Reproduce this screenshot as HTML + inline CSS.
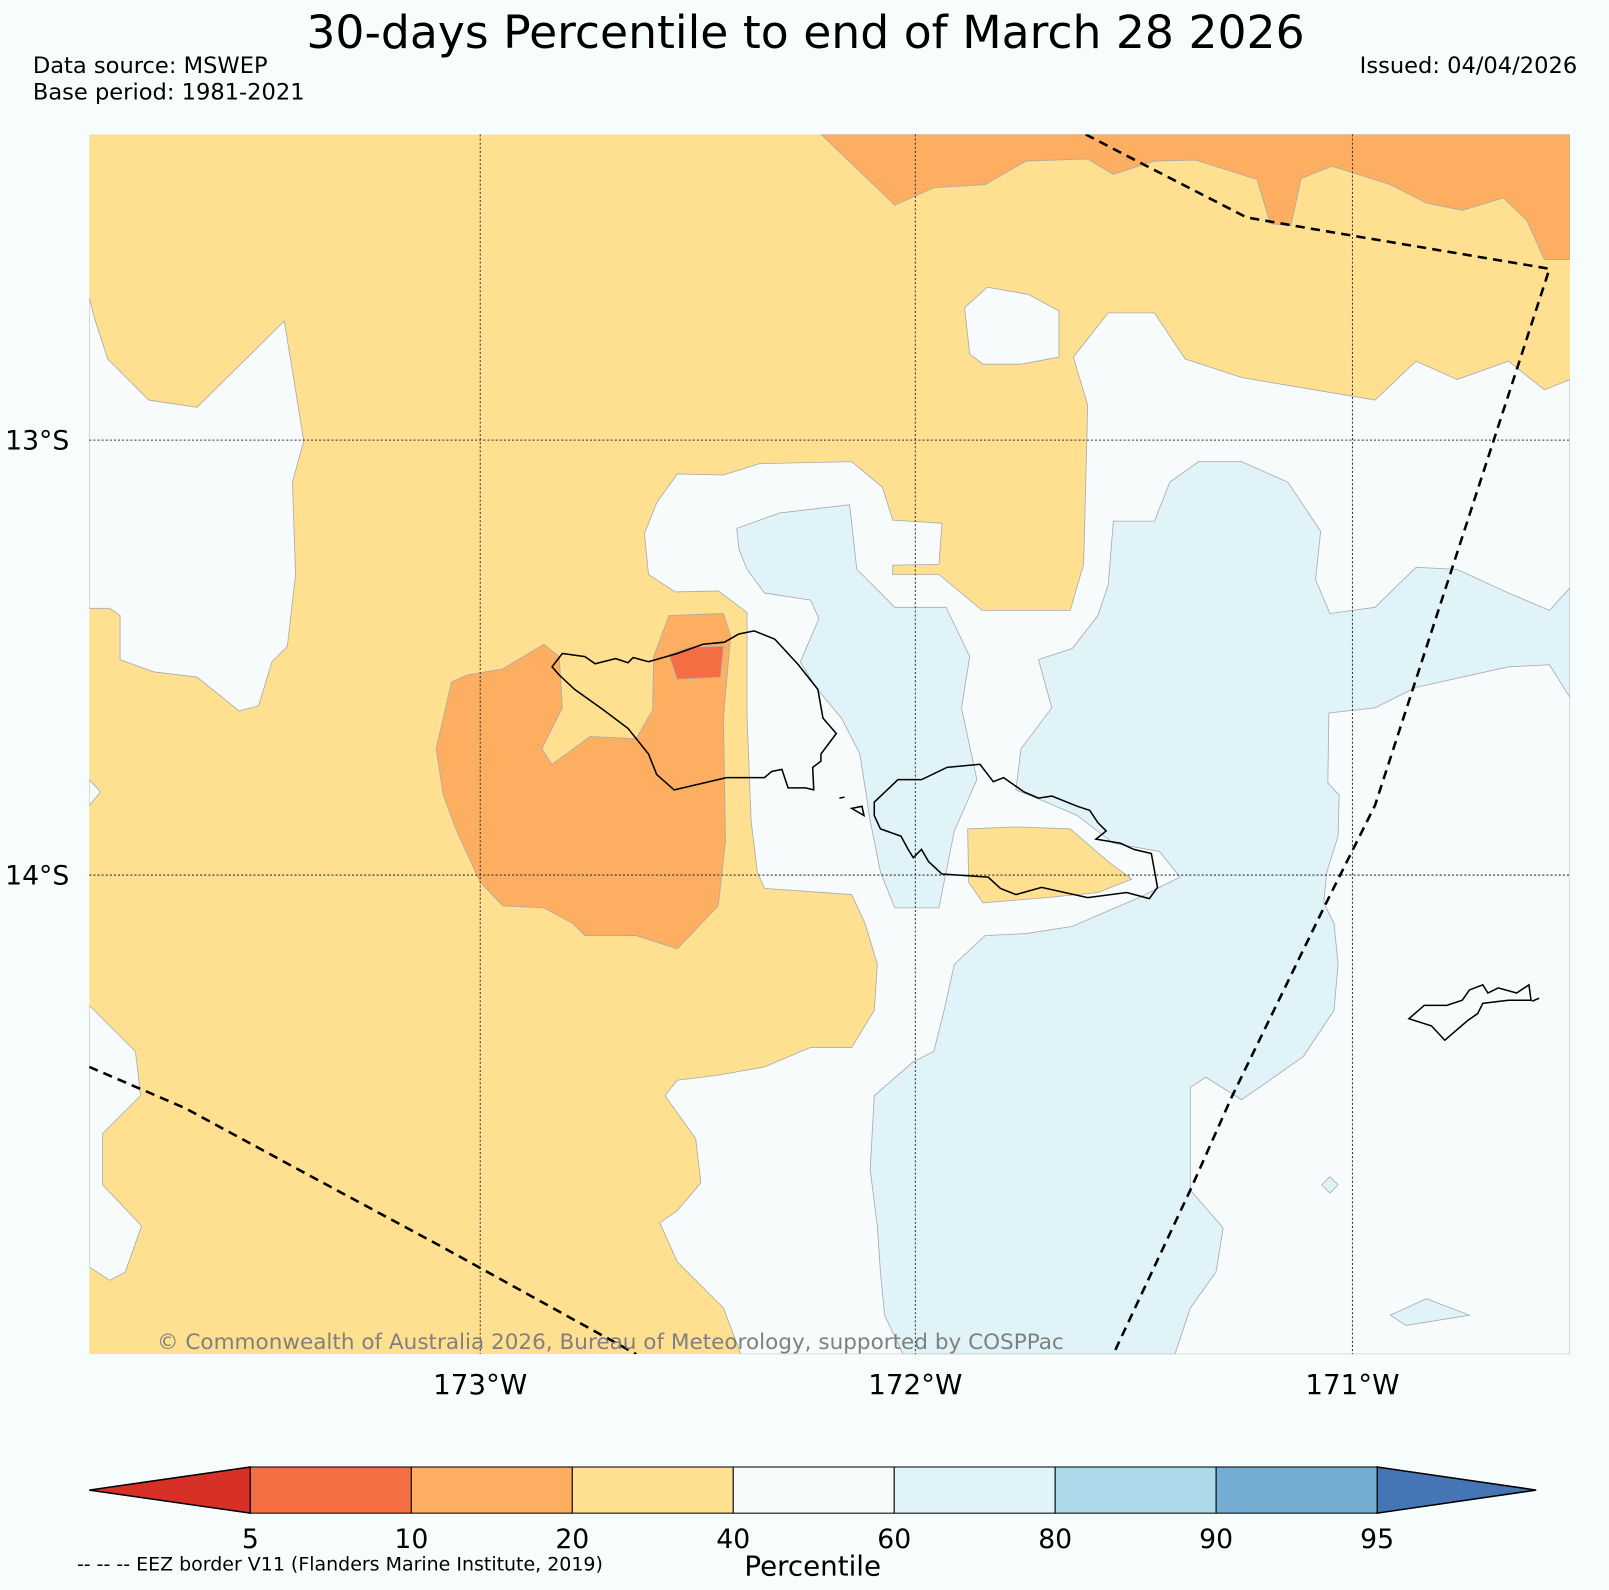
<!DOCTYPE html>
<html><head><meta charset="utf-8"><style>
html,body{margin:0;padding:0;background:#f7fcfd;}
body{width:1609px;height:1586px;overflow:hidden;font-family:"DejaVu Sans","Liberation Sans",sans-serif;}
</style></head><body>
<svg id="fig" width="1609" height="1586" viewBox="0 0 1568 1546" preserveAspectRatio="none" xmlns="http://www.w3.org/2000/svg" font-family="DejaVu Sans, Liberation Sans, sans-serif">
<rect width="1568" height="1546" fill="#f7fcfd"/>
<text x="785" y="47" font-size="44.5" text-anchor="middle">30-days Percentile to end of March 28 2026</text>
<text x="32" y="71" font-size="22">Data source: MSWEP</text>
<text x="32" y="97" font-size="22">Base period: 1981-2021</text>
<text x="1537" y="71" font-size="22" text-anchor="end">Issued: 04/04/2026</text>
<g>
<clipPath id="mc"><rect x="87" y="131" width="1443" height="1189"/></clipPath>
<g clip-path="url(#mc)" stroke="#aaa" stroke-width="0.8">
<rect x="87" y="131" width="1443" height="1189" fill="#fee090" stroke="none"/>
<g fill="#f7fbfc">
<polygon points="87,290 92,310 105,350 145,390 192,397 277,313 288,380 296,430 285,470 288,560 280,630 265,645 252,688 233,693 192,660 150,655 117,643 117,600 107,593 87,593"/>
<polygon points="87,760 98,772 87,785"/>
<polygon points="87,980 132,1025 137,1068 100,1105 100,1155 138,1195 122,1240 107,1248 87,1235"/>
<polygon points="940,300 962,280 1002,287 1032,303 1032,348 995,355 958,355 945,345"/>
<polygon points="1530,370 1505,380 1470,352 1420,370 1380,352 1340,390 1210,368 1155,350 1125,305 1080,305 1046,348 1060,395 1056,550 1043,595 957,595 915,560 870,560 870,551 915,550 918,510 870,507 860,475 830,450 740,452 705,463 660,462 640,490 628,520 632,560 658,577 700,576 728,597 728,700 732,800 738,850 745,866 830,872 843,900 855,940 852,985 830,1021 790,1021 745,1040 700,1048 660,1053 648,1068 678,1110 683,1153 660,1180 643,1192 660,1230 705,1275 722,1320 1530,1320"/>
</g>
<g fill="#e0f3f8">
<polygon points="718,515 760,500 828,492 835,555 872,592 922,592 945,640 937,690 952,760 930,810 915,885 872,885 858,850 848,800 838,735 820,700 795,670 780,645 798,603 790,585 745,578 728,555 720,535"/>
<polygon points="1085,508 1125,508 1140,470 1168,450 1210,450 1255,470 1287,518 1282,565 1296,598 1340,592 1380,553 1420,555 1470,578 1510,595 1530,573 1530,680 1510,648 1470,650 1380,670 1340,690 1295,695 1294,763 1305,775 1304,815 1293,850 1290,880 1300,900 1304,940 1300,985 1270,1030 1210,1072 1175,1050 1160,1060 1160,1160 1192,1197 1185,1240 1160,1275 1145,1320 880,1320 862,1282 858,1240 855,1195 848,1140 852,1068 890,1035 910,1025 920,985 930,940 960,912 1000,910 1045,903 1075,890 1110,875 1150,855 1130,830 1085,822 1050,795 1020,782 990,770 995,730 1025,690 1012,643 1045,632 1070,600 1080,570"/>
<polygon points="1288,1155 1296,1147 1304,1155 1296,1163"/>
<polygon points="1355,1282 1390,1266 1432,1282 1370,1292"/>
</g>
<polygon fill="#fee090" points="943,808 990,806 1043,808 1080,840 1103,857 1070,870 1020,875 958,880 944,860"/>
<g fill="#fdae61">
<polygon points="800,131 872,200 910,183 960,180 1000,157 1060,155 1085,170 1125,157 1165,156 1225,175 1238,218 1258,220 1268,174 1298,162 1355,180 1390,198 1425,205 1465,193 1488,215 1505,253 1530,253 1530,131"/>
<polygon points="425,730 440,665 455,658 490,652 530,628 545,640 548,690 528,730 538,745 575,718 620,720 636,692 637,640 652,600 705,598 712,620 705,700 707,820 700,883 660,925 620,912 570,912 558,900 530,885 490,883 468,860 445,810 432,775"/>
</g>
<polygon fill="#f46d43" points="652,638 672,631 705,630 702,660 660,662"/>
</g>
<g stroke="#333" stroke-width="1" stroke-dasharray="2,2">
<line x1="468" y1="131" x2="468" y2="1320"/><line x1="892" y1="131" x2="892" y2="1320"/><line x1="1318" y1="131" x2="1318" y2="1320"/>
<line x1="87" y1="429" x2="1530" y2="429"/><line x1="87" y1="853" x2="1530" y2="853"/>
</g>
<g fill="none" stroke="#000" stroke-width="1.5" clip-path="url(#mc)">
<polygon points="538,650 548,637 570,640 580,647 600,642 612,646 617,641 632,645 660,637 685,628 706,626 720,618 735,615 755,623 778,648 797,672 802,700 815,715 800,735 800,742 792,748 793,770 785,768 768,768 762,750 752,752 745,758 708,758 657,770 640,755 632,735 612,710 588,692 560,672 545,658"/>
<polygon points="852,782 875,760 898,760 923,748 955,745 968,762 978,758 998,772 1012,778 1025,776 1050,786 1062,790 1070,802 1078,810 1068,818 1092,822 1105,828 1122,832 1128,865 1120,876 1098,870 1060,875 1015,865 990,872 975,866 963,855 918,852 905,840 898,828 890,836 885,828 878,815 858,808 852,795"/>
<line x1="818" y1="778" x2="823" y2="777"/>
<polygon points="830,788 840,786 842,795"/>
<polygon points="1373,993 1388,980 1410,980 1425,975 1432,965 1445,960 1450,968 1460,963 1478,968 1490,960 1492,975 1470,975 1445,978 1440,988 1430,995 1408,1014 1395,1000"/>
<line x1="1493" y1="976" x2="1500" y2="973"/>
</g>
<g fill="none" stroke="#000" stroke-width="2.5" stroke-dasharray="9,6" clip-path="url(#mc)">
<polyline points="1058,131 1108,157 1215,212 1290,225 1510,262 1470,385 1340,785 1290,885 1200,1070 1160,1160 1085,1320"/>
<polyline points="87,1040 180,1080 300,1145 430,1215 620,1320"/>
</g>
<text x="153" y="1315" font-size="21" fill="#808080">© Commonwealth of Australia 2026, Bureau of Meteorology, supported by COSPPac</text>
</g>
<g font-size="26">
<text x="5" y="438">13°S</text><text x="5" y="862">14°S</text>
</g>
<g font-size="27" text-anchor="middle">
<text x="468" y="1359">173°W</text><text x="892" y="1359">172°W</text><text x="1318" y="1359">171°W</text>
</g>
<g id="cbar"></g>
<text x="792" y="1536" font-size="27" text-anchor="middle">Percentile</text>
<text x="75" y="1531" font-size="18.5">-- -- -- EEZ border V11 (Flanders Marine Institute, 2019)</text>
</svg>
<script>
const cbTicks = ["5","10","20","40","60","80","90","95"];
const cbColors = ["#f46d43","#fdae61","#fee090","#f7fbfc","#e0f3f8","#abd9e9","#74add1"];
const cbUnder = "#d73027";
const cbOver = "#4575b4";
const NS="http://www.w3.org/2000/svg";
const g=document.getElementById('cbar');
const x0=244,x1=1342,y0=1430,h=45,tipL=87,tipR=1497;
const w=(x1-x0)/cbColors.length;
function mk(t,a){const e=document.createElementNS(NS,t);for(const k in a)e.setAttribute(k,a[k]);g.appendChild(e);return e;}
let u=mk('polygon',{points:`${tipL},${y0+h/2} ${x0},${y0} ${x0},${y0+h}`,fill:cbUnder,stroke:'#000','stroke-width':1.5});


let o=mk('polygon',{points:`${tipR},${y0+h/2} ${x1},${y0} ${x1},${y0+h}`,fill:cbOver,stroke:'#000','stroke-width':1.5});


cbColors.forEach((c,i)=>{
  const r=mk('rect',{x:x0+i*w,y:y0,width:w,height:h,fill:c,stroke:'#000','stroke-width':1});
  
  
});
cbTicks.forEach((t,i)=>{
  const e=mk('text',{x:x0+i*w,y:1509,'font-size':26,'text-anchor':'middle'});
  e.textContent=t;
  
  
});
</script>
</body></html>
